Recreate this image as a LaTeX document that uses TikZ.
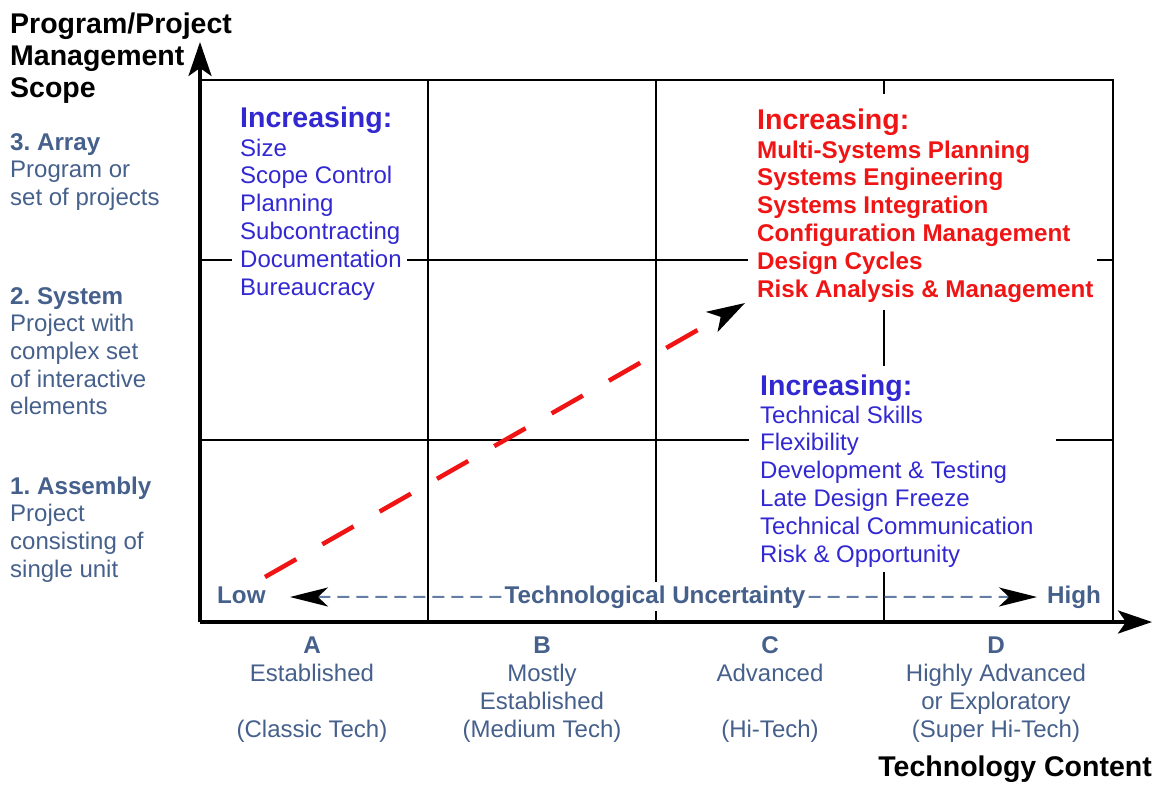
\documentclass[tikz,border=0pt]{standalone}
\usepackage{fontspec}
\setmainfont{Liberation Sans}
\usetikzlibrary{arrows.meta}
\frenchspacing

\definecolor{scopeblue}{RGB}{70,96,140}
\definecolor{incblue}{RGB}{50,40,210}
\definecolor{incred}{RGB}{240,20,20}
\definecolor{uncgray}{RGB}{100,125,165}

\tikzset{
    titletext/.style={anchor=base west, inner sep=0pt, font=\fontsize{28.5}{31}\selectfont\bfseries},
    headtext/.style={anchor=base west, inner sep=0pt, font=\fontsize{24.2}{28}\selectfont\bfseries},
    bodytext/.style={anchor=base west, inner sep=0pt, font=\fontsize{24}{28}\selectfont},
    coltext/.style={anchor=base, inner sep=0pt, text=scopeblue, font=\fontsize{24}{28}\selectfont},
    gridline/.style={line width=1.6pt},
    axisline/.style={line width=3.5pt, -{Stealth[length=34pt,width=23pt,inset=8pt]}},
    uncline/.style={uncgray, line width=2pt, dash pattern=on 12pt off 7pt, -{Stealth[length=38pt,width=19pt,inset=10pt,color=black]}},
    trendline/.style={incred, line width=4.5pt, dash pattern=on 36pt off 30pt, -{Stealth[length=38pt,width=23pt,inset=10pt,color=black]}}
}

\begin{document}
\begin{tikzpicture}[x=1pt,y=-1pt]
    \useasboundingbox (0,0) rectangle (1154,785);

    % grid of the four columns and three rows
    \draw[gridline] (200,80) -- (1113,80) -- (1113,622);
    \draw[gridline] (428,80) -- (428,622);
    \draw[gridline] (656,80) -- (656,622);
    \draw[gridline] (884,80) -- (884,94) (884,310) -- (884,366) (884,572) -- (884,622);
    \draw[gridline] (200,260) -- (232,260) (407,260) -- (748,260) (1097,260) -- (1113,260);
    \draw[gridline] (200,440) -- (749,440) (1056,440) -- (1113,440);

    % axes
    \coordinate (origin) at (200,622);
    \coordinate (ytip) at (200,42);
    \coordinate (xtip) at (1152,622);
    \draw[axisline] (origin) -- (ytip);
    \draw[axisline] (origin) -- (xtip);

    \node[titletext] (ytitle1) at (10,33) {Program/Project};
    \node[titletext] (ytitle2) at (10,65) {Management};
    \node[titletext] (ytitle3) at (10,97) {Scope};
    \node[titletext, anchor=base east] (xtitle) at (1152,776) {Technology Content};

    % row labels
    \node[headtext, text=scopeblue] (array) at (10,150) {3. Array};
    \foreach \t [count=\i] in {Program or, set of projects}
        \node[bodytext, text=scopeblue] (array\i) at (10,150+27.7*\i) {\t};
    \node[headtext, text=scopeblue] (system) at (10,304) {2. System};
    \foreach \t [count=\i] in {Project with, complex set, of interactive, elements}
        \node[bodytext, text=scopeblue] (system\i) at (10,304+27.7*\i) {\t};
    \node[headtext, text=scopeblue] (assembly) at (10,494) {1. Assembly};
    \foreach \t [count=\i] in {Project, consisting of, single unit}
        \node[bodytext, text=scopeblue] (assembly\i) at (10,494+27.7*\i) {\t};

    % column labels
    \node[coltext, font=\fontsize{24.2}{28}\selectfont\bfseries] (colA) at (312,653) {A};
    \node[coltext] (colA1) at (312,681) {Established};
    \node[coltext] (colA2) at (312,737) {(Classic Tech)};
    \node[coltext, font=\fontsize{24.2}{28}\selectfont\bfseries] (colB) at (542,653) {B};
    \node[coltext] (colB1) at (542,681) {Mostly};
    \node[coltext] (colB2) at (542,709) {Established};
    \node[coltext] (colB3) at (542,737) {(Medium Tech)};
    \node[coltext, font=\fontsize{24.2}{28}\selectfont\bfseries] (colC) at (770,653) {C};
    \node[coltext] (colC1) at (770,681) {Advanced};
    \node[coltext] (colC2) at (770,737) {(Hi-Tech)};
    \node[coltext, font=\fontsize{24.2}{28}\selectfont\bfseries] (colD) at (996,653) {D};
    \node[coltext] (colD1) at (996,681) {Highly Advanced};
    \node[coltext] (colD2) at (996,709) {or Exploratory};
    \node[coltext] (colD3) at (996,737) {(Super Hi-Tech)};

    % what increases
    \node[titletext, text=incblue] (sizehead) at (240,127) {Increasing:};
    \foreach \t [count=\i] in {Size, Scope Control, Planning, Subcontracting, Documentation, Bureaucracy}
        \node[bodytext, text=incblue] (size\i) at (240,128.1+27.9*\i) {\t};

    \node[titletext, text=incred] (syshead) at (757,129) {Increasing:};
    \foreach \t [count=\i] in {Multi-Systems Planning, Systems Engineering, Systems Integration, Configuration Management, Design Cycles, Risk Analysis \& Management}
        \node[headtext, text=incred] (sys\i) at (757,130.2+27.8*\i) {\t};

    \node[titletext, text=incblue] (techhead) at (760,395) {Increasing:};
    \foreach \t [count=\i] in {Technical Skills, Flexibility, Development \& Testing, Late Design Freeze, Technical Communication, Risk \& Opportunity}
        \node[bodytext, text=incblue] (tech\i) at (760,395.2+27.8*\i) {\t};

    % technological uncertainty
    \node[headtext, anchor=base, inner sep=3pt, fill=white, text=scopeblue] (unc) at (655,603) {Technological Uncertainty};
    \node[headtext, text=scopeblue] (low) at (217,603) {Low};
    \node[headtext, text=scopeblue] (high) at (1047,603) {High};
    \coordinate (lowtip) at (290,597);
    \coordinate (hightip) at (1037,597);
    \draw[uncline] (unc.west) -- (lowtip);
    \draw[uncline] (unc.east) -- (hightip);

    % trend from assembly to array
    \coordinate (trendstart) at (265,577);
    \coordinate (trendtip) at (745,303);
    \draw[trendline] (trendstart) -- (trendtip);
\end{tikzpicture}
\end{document}
